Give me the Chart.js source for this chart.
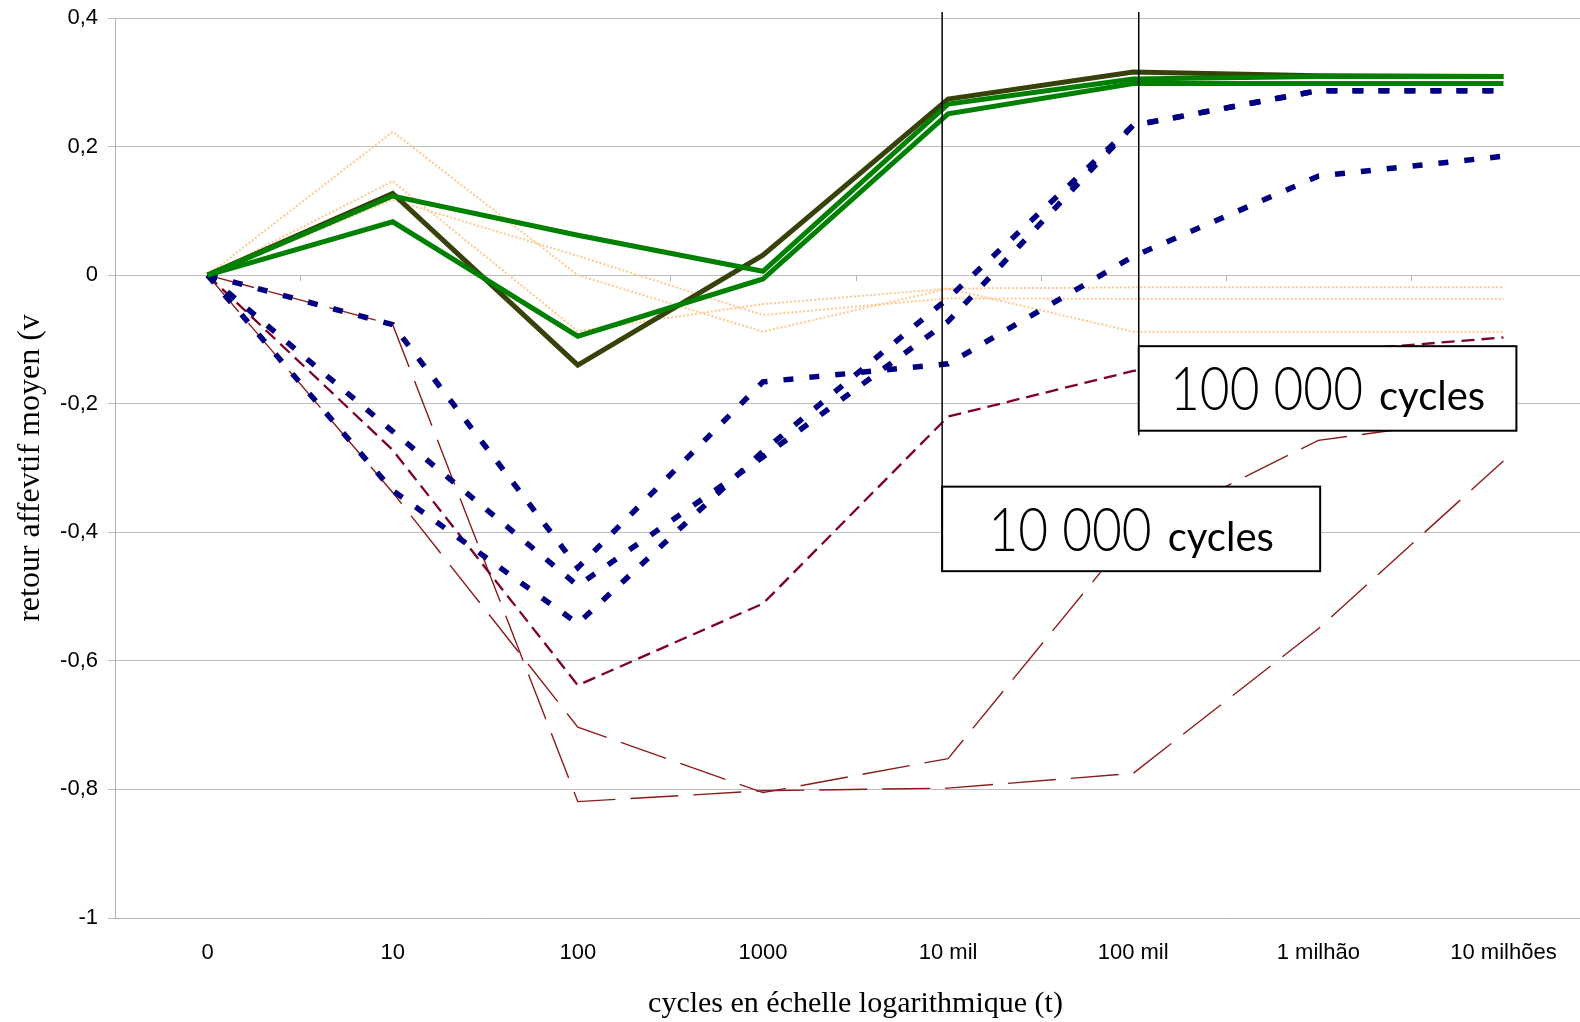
<!DOCTYPE html>
<html lang="fr">
<head>
<meta charset="utf-8">
<title>Retour affectif moyen</title>
<script src="https://cdn.jsdelivr.net/npm/chart.js@4.4.1/dist/chart.umd.min.js"></script>
<style>
  html, body { margin: 0; padding: 0; background: #fff; overflow: hidden; }
  #grafico { display: block; }
</style>
</head>
<body>
<canvas id="grafico" width="1596" height="1022"></canvas>
<script>
// categorias do eixo x (escala logaritmica)
const categorias = ['0', '10', '100', '1000', '10 mil', '100 mil', '1 milhão', '10 milhões'];
const yTickLabels = ['-1', '-0,8', '-0,6', '-0,4', '-0,2', '0', '0,2', '0,4'];

// verdes (traco grosso)
const oliva  = [0, 0.127, -0.140, 0.031, 0.274, 0.316, 0.310, 0.309];
const verdeA = [0, 0.123, 0.062, 0.006, 0.266, 0.305, 0.309, 0.309];
const verdeB = [0, 0.083, -0.095, -0.006, 0.251, 0.298, 0.298, 0.298];

// laranjas (pontilhado fino)
const laranja1 = [0, 0.223, 0.000, -0.088, -0.021, -0.019, -0.019, -0.019];
const laranja2 = [0, 0.146, -0.087, -0.045, -0.021, -0.088, -0.088, -0.088];
const laranja3 = [0, 0.117, 0.030, -0.062, -0.036, -0.037, -0.037, -0.037];

// azuis (tracejado grosso)
const azulX = [0, -0.077, -0.455, -0.166, -0.138, 0.029, 0.154, 0.185];
const azulY = [0, -0.243, -0.483, -0.283, -0.072, 0.233, 0.287, 0.287];
const azulZ = [0, -0.335, -0.542, -0.274, -0.036, 0.233, 0.287, 0.287];

// vermelhos escuros
const bordo1 = [0, -0.272, -0.638, -0.511, -0.220, -0.149, -0.120, -0.097];
const bordo2 = [0, -0.077, -0.819, -0.802, -0.798, -0.775, -0.550, -0.289];
const bordo3 = [0, -0.338, -0.703, -0.805, -0.752, -0.400, -0.257, -0.218];

// caixas de anotacao (posicao em unidades das escalas)
const anotacoes = [
  { numero: '10 000', texto: 'cycles', em: 3.968, largura: 2.042, topo: -0.329, base: -0.4605, fimLinha: -0.4605 },
  { numero: '100 000', texto: 'cycles', em: 5.03, largura: 2.04, topo: -0.1105, base: -0.242, fimLinha: -0.249 }
];

function serie(dados, cor, largura, tracejado, ordem) {
  return {
    data: dados,
    borderColor: cor,
    borderWidth: largura,
    borderDash: tracejado,
    borderCapStyle: 'butt',
    borderJoinStyle: 'miter',
    fill: false,
    pointRadius: 0,
    tension: 0,
    order: ordem
  };
}

// pequenos tracos do eixo x sobre a linha do zero
const tracosZero = {
  id: 'tracosZero',
  beforeDatasetsDraw(chart) {
    const { ctx, scales: { x, y } } = chart;
    const y0 = y.getPixelForValue(0);
    ctx.save();
    ctx.strokeStyle = '#b3b3b3';
    ctx.lineWidth = 1;
    for (let k = 1; k < categorias.length; k++) {
      const px = Math.round((x.getPixelForValue(k - 1) + x.getPixelForValue(k)) / 2) + 0.5;
      ctx.beginPath();
      ctx.moveTo(px, y0);
      ctx.lineTo(px, y0 + 6);
      ctx.stroke();
    }
    ctx.restore();
  }
};

// linhas verticais e caixas "10 000 cycles" / "100 000 cycles"
const caixas = {
  id: 'caixas',
  afterDraw(chart) {
    const { ctx, chartArea, scales: { x, y } } = chart;
    ctx.save();
    anotacoes.forEach(a => {
      const esq = x.getPixelForValue(a.em);
      const dir = x.getPixelForValue(a.em + a.largura);
      const topo = y.getPixelForValue(a.topo);
      const base = y.getPixelForValue(a.base);

      ctx.strokeStyle = '#000';
      ctx.lineWidth = 1.5;
      ctx.beginPath();
      ctx.moveTo(esq, chartArea.top - 6);
      ctx.lineTo(esq, y.getPixelForValue(a.fimLinha));
      ctx.stroke();

      ctx.fillStyle = '#fff';
      ctx.fillRect(esq, topo, dir - esq, base - topo);
      ctx.lineWidth = 2;
      ctx.strokeRect(esq, topo, dir - esq, base - topo);

      // texto centrado na caixa
      ctx.fillStyle = '#000';
      ctx.textBaseline = 'alphabetic';
      ctx.textAlign = 'left';
      const escala = 0.83;
      ctx.font = '300 62px Lato';
      const wNum = ctx.measureText(a.numero).width * escala;
      ctx.font = '40px Lato';
      const wTxt = ctx.measureText(a.texto).width;
      const gap = 16;
      const total = wNum + gap + wTxt;
      const x0 = (esq + dir) / 2 - total / 2;
      const linhaBase = (topo + base) / 2 + 22;

      ctx.save();
      ctx.translate(x0, linhaBase);
      ctx.scale(escala, 1);
      ctx.font = '300 62px Lato';
      ctx.fillText(a.numero, 0, 0);
      ctx.restore();

      ctx.font = '40px Lato';
      ctx.fillText(a.texto, x0 + wNum + gap, linhaBase);
    });
    ctx.restore();
  }
};

document.addEventListener('DOMContentLoaded', function () {
  const ctx = document.getElementById('grafico');

  const datasets = [
    serie(verdeA, '#008000', 5, [], 1),
    serie(verdeB, '#008000', 5, [], 1),
    serie(oliva, '#36420a', 5, [], 2),
    serie(azulX, '#000080', 5.5, [10, 16], 3),
    serie(azulY, '#000080', 5.5, [10, 16], 3),
    serie(azulZ, '#000080', 5.5, [10, 16], 3),
    serie(laranja1, '#ffc98f', 2, [2, 2], 4),
    serie(laranja2, '#ffc98f', 2, [2, 2], 4),
    serie(laranja3, '#ffc98f', 2, [2, 2], 4),
    serie(bordo1, '#800025', 2.3, [13, 7], 5),
    serie(bordo2, '#8c1c1c', 1.4, [48, 15], 6),
    serie(bordo3, '#8c1c1c', 1.4, [48, 15], 6)
  ];

  new Chart(ctx, {
    type: 'line',
    data: { labels: categorias, datasets: datasets },
    options: {
      responsive: false,
      animation: false,
      layout: { padding: { top: 18, right: 0, bottom: 0, left: 0 } },
      plugins: {
        legend: { display: false },
        tooltip: { enabled: false }
      },
      scales: {
        x: {
          offset: true,
          grid: { display: false, drawTicks: false },
          border: { display: true, color: '#b3b3b3' },
          ticks: {
            color: '#000',
            font: { family: 'Liberation Sans', size: 22 },
            padding: 22,
            maxRotation: 0,
            autoSkip: false
          },
          title: {
            display: true,
            text: 'cycles en échelle logarithmique (t)',
            color: '#000',
            font: { family: 'Liberation Serif', size: 30 },
            padding: { top: 0, bottom: 0 }
          },
          afterFit: s => { s.height = 104; }
        },
        y: {
          min: -1,
          max: 0.4,
          grid: { color: '#bdbdbd', lineWidth: 1, tickLength: 7 },
          border: { color: '#b3b3b3' },
          ticks: {
            stepSize: 0.2,
            color: '#000',
            font: { family: 'Liberation Sans', size: 22 },
            padding: 10,
            callback: v => yTickLabels[Math.round((v + 1) / 0.2)]
          },
          title: {
            display: true,
            text: 'retour affevtif moyen (v',
            color: '#000',
            font: { family: 'Liberation Serif', size: 32 },
            padding: { top: 11, bottom: 0 }
          },
          afterFit: s => {
            s.width = 115;
            s.paddingTop = 0;
            s.paddingBottom = 0;
          }
        }
      }
    },
    plugins: [tracosZero, caixas]
  });
});
</script>
</body>
</html>
